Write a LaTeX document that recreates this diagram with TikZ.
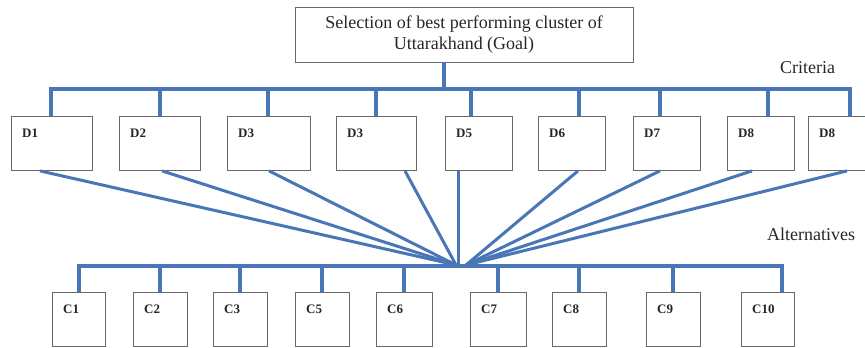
\documentclass[tikz,border=0pt]{standalone}
\usepackage{fontspec}
\setmainfont{Liberation Serif}
\usetikzlibrary{calc}
\definecolor{lineblue}{RGB}{72,118,182}
\definecolor{boxgray}{RGB}{105,105,105}
\begin{document}
\begin{tikzpicture}[x=1pt,y=-1pt,
  box/.style={draw=boxgray, line width=0.9pt, inner sep=0pt, anchor=north west, minimum height=54pt},
  lbl/.style={anchor=base west, inner sep=0pt, font=\fontsize{13}{15}\selectfont\bfseries, text=black!85},
  txt/.style={inner sep=0pt, font=\fontsize{18}{21}\selectfont, text=black!85},
  conn/.style={draw=lineblue, line width=4pt},
  fan/.style={draw=lineblue, line width=3pt}]
\useasboundingbox (0,0) rectangle (865,348);
\clip (0,0) rectangle (865,348);
% goal
\node[draw=boxgray, line width=0.9pt, inner sep=0pt, minimum width=338pt, minimum height=55pt,
  align=center, txt] (goal) at (464,34.5) {Selection of best performing cluster of\\Uttarakhand (Goal)};
\node[txt, anchor=base west] (crit) at (780,73) {Criteria};
\node[txt, anchor=base west] (alt) at (767,240) {Alternatives};
% criteria boxes
\node[box, minimum width=81pt] (d1) at (11,116) {};
\node[box, minimum width=81pt] (d2) at (119,116) {};
\node[box, minimum width=83pt] (d3) at (227,116) {};
\node[box, minimum width=80pt] (d3b) at (336,116) {};
\node[box, minimum width=67pt] (d5) at (445,116) {};
\node[box, minimum width=67pt] (d6) at (538,116) {};
\node[box, minimum width=67pt] (d7) at (633,116) {};
\node[box, minimum width=67pt] (d8) at (727,116) {};
\node[box, minimum width=80pt] (d8b) at (808,116) {};
\foreach \n/\t in {d1/D1,d2/D2,d3/D3,d3b/D3,d5/D5,d6/D6,d7/D7,d8/D8,d8b/D8}
  \node[lbl] (\n l) at ([shift={(11pt,-21pt)}]\n.north west) {\t};
% alternative boxes
\node[box, minimum width=53pt] (c1) at (52,292) {};
\node[box, minimum width=54pt] (c2) at (133,292) {};
\node[box, minimum width=54pt] (c3) at (213,292) {};
\node[box, minimum width=54pt] (c5) at (295,292) {};
\node[box, minimum width=56pt] (c6) at (376,292) {};
\node[box, minimum width=56pt] (c7) at (470,292) {};
\node[box, minimum width=54pt] (c8) at (552,292) {};
\node[box, minimum width=54pt] (c9) at (646,292) {};
\node[box, minimum width=53pt] (c10) at (741,292) {};
\foreach \n/\t in {c1/C1,c2/C2,c3/C3,c5/C5,c6/C6,c7/C7,c8/C8,c9/C9,c10/C10}
  \node[lbl] (\n l) at ([shift={(11pt,-21pt)}]\n.north west) {\t};
% criteria bus
\coordinate (cb) at (0,89);
\draw[conn] ([xshift=-20pt]goal.south) -- ([xshift=-20pt]goal.south |- cb);
\draw[conn, line join=miter] ([xshift=40pt]d1.north west) -- ([xshift=40pt]d1.north west |- cb)
  -- ([xshift=42pt]d8b.north west |- cb) -- ([xshift=42pt]d8b.north west);
\foreach \n/\o in {d2/41,d3/41,d3b/40,d5/26,d6/41,d7/27,d8/41}
  \draw[conn] ([xshift=\o pt]\n.north west) -- ([xshift=\o pt]\n.north west |- cb);
% fan
\coordinate (hubL) at (456,265);
\coordinate (hubR) at (466,265);
\foreach \n/\o in {d1/29,d2/43,d3/42,d3b/69}
  \draw[fan] ([xshift=\o pt]\n.south west) -- (hubL);
\draw[fan] ([xshift=13pt]d5.south west) -- ([xshift=13pt]d5.south west |- hubL);
\foreach \n/\o in {d6/40,d7/27,d8/25,d8b/39}
  \draw[fan] ([xshift=\o pt]\n.south west) -- (hubR);
% alternatives bus
\coordinate (ab) at (0,266);
\draw[conn, line join=miter] (c1.north) -- (c1.north |- ab) -- ([xshift=41pt]c10.north west |- ab) -- ([xshift=41pt]c10.north west);
\foreach \n in {c2,c3,c5,c6,c7,c8,c9}
  \draw[conn] (\n.north) -- (\n.north |- ab);
\end{tikzpicture}
\end{document}
